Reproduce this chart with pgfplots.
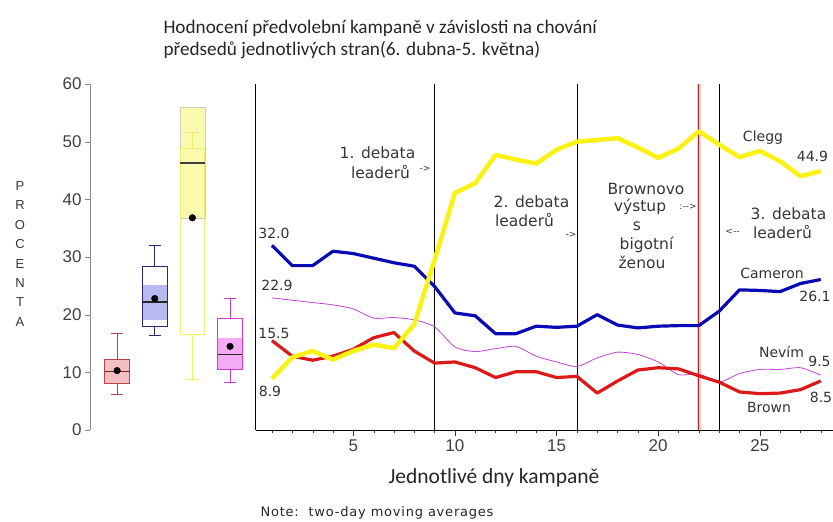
\documentclass[border=0pt]{standalone}
\usepackage{pgfplots}
\pgfplotsset{compat=1.18}
\usepgfplotslibrary{statistics}
\usepackage{fontspec}
\setmainfont{Liberation Sans}
\newfontfamily\calibri{Carlito}
\newfontfamily\verd{DejaVu Sans}
\newfontfamily\notefont[LetterSpace=6]{DejaVu Sans}

\definecolor{cleggY}{RGB}{250,242,20}
\definecolor{cameronB}{RGB}{10,10,180}
\definecolor{brownR}{RGB}{220,25,25}
\definecolor{nevimP}{RGB}{190,70,210}
\definecolor{txt}{RGB}{55,55,55}
\definecolor{halo}{RGB}{248,205,205}
\definecolor{evline}{RGB}{175,35,35}
\definecolor{boxR}{RGB}{180,70,70}
\definecolor{boxRfill}{RGB}{245,190,195}
\definecolor{boxRmed}{RGB}{120,30,30}
\definecolor{boxB}{RGB}{40,40,120}
\definecolor{boxBfill}{RGB}{185,185,240}
\definecolor{boxY}{RGB}{240,240,110}
\definecolor{boxYfill}{RGB}{250,250,175}
\definecolor{boxYedge}{RGB}{205,205,190}
\definecolor{boxP}{RGB}{200,60,200}
\definecolor{boxPfill}{RGB}{245,170,245}

% two-day moving averages, days 1..28
\pgfplotstableread{
day clegg cameron brown nevim
1  8.9  32.0 15.5 22.9
2  12.6 28.5 12.8 22.5
3  13.7 28.5 12.1 22.1
4  12.2 31.0 12.8 21.7
5  13.7 30.6 14.0 21.0
6  14.8 29.8 16.0 19.4
7  14.2 29.0 16.9 19.5
8  18.3 28.4 13.7 19.1
9  29.5 24.9 11.6 17.9
10 41.1 20.3 11.8 14.4
11 42.8 19.8 10.8 13.6
12 47.7 16.7 9.1  14.1
13 46.9 16.7 10.1 14.5
14 46.2 18.0 10.1 12.8
15 48.6 17.8 9.1  11.8
16 50.0 18.0 9.3  11.0
17 50.3 20.0 6.4  12.5
18 50.6 18.2 8.5  13.5
19 49.0 17.7 10.4 13.1
20 47.2 18.0 10.8 11.8
21 48.8 18.1 10.6 9.6
22 51.8 18.1 9.4  9.7
23 49.5 20.6 8.3  8.3
24 47.3 24.3 6.6  9.8
25 48.4 24.2 6.3  10.5
26 46.6 24.0 6.4  10.5
27 44.0 25.4 7.0  10.8
28 44.9 26.1 8.5  9.5
}\campaign

\begin{document}
\begin{tikzpicture}
\useasboundingbox (0pt,0pt) rectangle (833pt,522pt);

% title
\node[anchor=west, font=\calibri\fontsize{19.2}{22}\selectfont, text=black!85] at (160pt,494pt)
  {Hodnocení předvolební kampaně v závislosti na chování};
\node[anchor=west, font=\calibri\fontsize{19.2}{22}\selectfont, text=black!85] at (160pt,472pt)
  {předsedů jednotlivých stran(6. dubna-5. května)};

% vertical y label
\node[align=center, inner sep=0pt, font=\fontsize{13}{19.4}\selectfont, text=txt] at (20pt,268pt)
  {P\\R\\O\\C\\E\\N\\T\\A};

% ---- boxplots ----
\begin{axis}[
  at={(90pt,92pt)}, anchor=south west,
  scale only axis, width=160pt, height=346pt,
  xmin=0.28, xmax=4.53, ymin=0, ymax=60,
  axis x line=none, axis y line=left,
  axis line style={-, draw=black!45},
  ytick={0,10,...,60},
  tick align=outside, major tick length=5pt,
  y tick style={draw=black!45},
  yticklabel style={font=\fontsize{17}{17}\selectfont, text=black!75},
  /pgf/number format/assume math mode=true,
  clip=false,
  boxplot/draw direction=y,
  boxplot/box extend=0.66,
  boxplot/whisker extend=0.33,
]
% shaded bands
\addplot[fill=boxRfill, draw=none]
  coordinates {(0.67,8.0) (1.33,8.0) (1.33,12.2) (0.67,12.2)} --cycle;
\addplot[fill=boxBfill, draw=none]
  coordinates {(1.67,19.0) (2.33,19.0) (2.33,25.2) (1.67,25.2)} --cycle;
\addplot[fill=boxYfill, draw=boxYedge]
  coordinates {(2.67,36.8) (3.33,36.8) (3.33,56.0) (2.67,56.0)} --cycle;
\addplot[fill=boxPfill, draw=none]
  coordinates {(3.67,10.5) (4.33,10.5) (4.33,16.0) (3.67,16.0)} --cycle;

\addplot[draw=boxR, thick,
  boxplot prepared={draw position=1, median=10.1, lower quartile=8.0, upper quartile=12.2,
    lower whisker=6.2, upper whisker=16.7,
    every median/.style={draw=boxRmed, line width=1.2pt}}]
  coordinates {};
\addplot[draw=boxB, thick,
  boxplot prepared={draw position=2, median=22.2, lower quartile=17.9, upper quartile=28.3,
    lower whisker=16.4, upper whisker=32.0,
    every median/.style={draw=black!85, line width=1.2pt}}]
  coordinates {};
\addplot[draw=boxY, thick,
  boxplot prepared={draw position=3, median=46.3, lower quartile=16.5, upper quartile=48.8,
    lower whisker=8.7, upper whisker=51.6,
    every median/.style={draw=black!75, line width=1.2pt}}]
  coordinates {};
\addplot[draw=boxP, thick,
  boxplot prepared={draw position=4, median=13.1, lower quartile=10.5, upper quartile=19.3,
    lower whisker=8.2, upper whisker=22.8,
    every median/.style={draw=black!85, line width=1.2pt}}]
  coordinates {};
% means
\addplot[only marks, mark=*, mark size=3.3pt, black]
  coordinates {(1,10.3) (2,22.8) (3,36.8) (4,14.5)};
\end{axis}

% ---- daily lines ----
\begin{axis}[
  at={(255.7pt,92pt)}, anchor=south west,
  scale only axis, width=577.3pt, height=346pt,
  xmin=0.2, xmax=28.6, ymin=0, ymax=60,
  axis x line=bottom, axis y line=left,
  axis line style={-, draw=black, line width=0.8pt},
  ytick=\empty,
  xtick={5,10,15,20,25},
  minor xtick={1,...,28},
  tick align=outside, major tick length=6pt, minor tick length=3.5pt,
  tick style={draw=black!80},
  xticklabel style={font=\fontsize{17}{17}\selectfont, text=black!75},
  /pgf/number format/assume math mode=true,
  clip=false,
]
% event lines
\addplot[black, line width=0.7pt] coordinates {(9,0) (9,60)};
\addplot[black, line width=0.7pt] coordinates {(16,0) (16,60)};
\addplot[halo, line width=3.5pt] coordinates {(22,0) (22,60)};
\addplot[evline, line width=0.8pt] coordinates {(22,0) (22,60)};
\addplot[black, line width=0.7pt] coordinates {(23,0) (23,60)};

\addplot[nevimP, line width=0.8pt, smooth, tension=0.4] table[x=day, y=nevim] {\campaign};
\addplot[brownR, line width=3.2pt, line join=round] table[x=day, y=brown] {\campaign};
\addplot[cameronB, line width=3.2pt, line join=round] table[x=day, y=cameron] {\campaign};
\addplot[cleggY, line width=4.5pt, line join=round] table[x=day, y=clegg] {\campaign};
\end{axis}

% axis label and note
\node[font=\calibri\fontsize{21.5}{24}\selectfont, text=black!85] at (494pt,44pt) {Jednotlivé dny kampaně};
\node[anchor=west, font=\notefont\fontsize{13}{15}\selectfont, text=black!85] at (257pt,9pt) {Note:\ \ two-day moving averages};

% annotations
\begin{scope}[every node/.style={font=\verd\fontsize{15.5}{17}\selectfont, text=txt, inner sep=0pt}]
\node at (377.5pt,369.3pt) {1. debata};
\node at (380.5pt,350.3pt) {leaderů};
\node[font=\verd\fontsize{9}{10}\selectfont] at (425pt,353pt) {->};
\node at (531.5pt,320.3pt) {2. debata};
\node at (524.5pt,302pt) {leaderů};
\node[font=\verd\fontsize{9}{10}\selectfont] at (571pt,287pt) {->};
\node at (646pt,332.7pt) {Brownovo};
\node at (640pt,315.3pt) {výstup};
\node[font=\verd\fontsize{9}{10}\selectfont] at (688pt,315.3pt) {:-->};
\node at (637pt,295.3pt) {s};
\node at (646.5pt,277pt) {bigotní};
\node at (642pt,259.3pt) {ženou};
\node at (788.5pt,308.7pt) {3. debata};
\node[font=\verd\fontsize{9}{10}\selectfont] at (732.5pt,290.3pt) {<--};
\node at (782.5pt,290.3pt) {leaderů};
\end{scope}
\begin{scope}[every node/.style={font=\verd\fontsize{14}{16}\selectfont, text=black!80, inner sep=0pt}]
\node at (763pt,384.7pt) {Clegg};
\node at (812.5pt,365.3pt) {44.9};
\node at (772pt,248.7pt) {Cameron};
\node at (815pt,225.3pt) {26.1};
\node at (781.5pt,170.3pt) {Nevím};
\node at (819.5pt,161pt) {9.5};
\node at (769pt,114.3pt) {Brown};
\node at (821pt,124.3pt) {8.5};
\node at (274pt,288.7pt) {32.0};
\node at (277pt,236.3pt) {22.9};
\node at (274pt,188.7pt) {15.5};
\node at (270pt,130.3pt) {8.9};
\end{scope}
\end{tikzpicture}
\end{document}
